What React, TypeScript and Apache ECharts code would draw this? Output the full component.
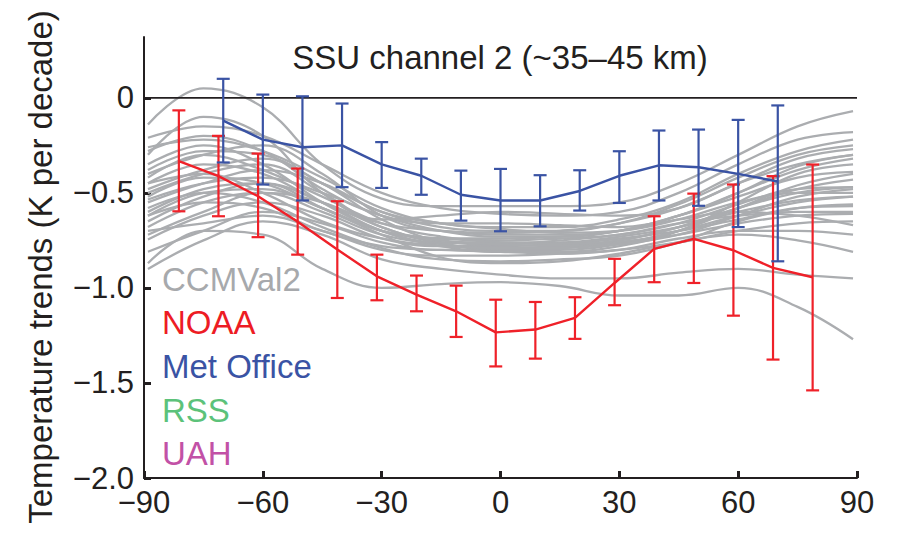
import React, { useEffect, useRef } from "react";
import * as echarts from "echarts";

// ---------- data ----------
const xTicks = [-90, -60, -30, 0, 30, 60, 90];
const yTicks = [-2.0, -1.5, -1.0, -0.5, 0];

// Met Office (blue)
const metLat = [-70, -60, -50, -40, -30, -20, -10, 0, 10, 20, 30, 40, 50, 60, 70];
const metVal = [-0.12, -0.22, -0.26, -0.25, -0.35, -0.41, -0.51, -0.54, -0.54, -0.49, -0.41, -0.355, -0.365, -0.4, -0.44];
const metHi = [0.1, 0.017, 0.008, -0.03, -0.233, -0.32, -0.383, -0.374, -0.407, -0.381, -0.281, -0.172, -0.167, -0.116, -0.04];
const metLo = [-0.34, -0.456, -0.54, -0.47, -0.474, -0.51, -0.646, -0.702, -0.676, -0.593, -0.553, -0.54, -0.568, -0.68, -0.86];

// NOAA (red)
const noaaLat = [-81.2, -71.2, -61.2, -51.2, -41.2, -31.2, -21.2, -11.2, -1.2, 8.8, 18.8, 28.8, 38.8, 48.8, 58.8, 68.8, 78.8];
const noaaVal = [-0.333, -0.412, -0.518, -0.652, -0.798, -0.939, -1.035, -1.123, -1.234, -1.219, -1.158, -0.974, -0.795, -0.742, -0.802, -0.895, -0.944];
const noaaHi = [-0.066, -0.2, -0.293, -0.372, -0.544, -0.825, -0.935, -0.988, -1.062, -1.074, -1.049, -0.847, -0.623, -0.504, -0.456, -0.412, -0.351];
const noaaLo = [-0.597, -0.623, -0.733, -0.825, -1.053, -1.065, -1.123, -1.258, -1.413, -1.372, -1.268, -1.091, -0.97, -0.974, -1.146, -1.377, -1.539];

// CCMVal2 models (gray)
const ccmLat = [-89, -75, -60, -45, -30, -15, 0, 15, 30, 45, 60, 75, 89];
const ccmModels = [
  [-0.14, 0.05, -0.05, -0.35, -0.53, -0.57, -0.57, -0.57, -0.55, -0.45, -0.3, -0.15, -0.07],
  [-0.21, -0.15, -0.2, -0.35, -0.5, -0.58, -0.61, -0.62, -0.6, -0.5, -0.35, -0.22, -0.18],
  [-0.26, -0.22, -0.28, -0.42, -0.58, -0.66, -0.68, -0.68, -0.64, -0.55, -0.4, -0.28, -0.22],
  [-0.38, -0.28, -0.3, -0.45, -0.6, -0.68, -0.7, -0.7, -0.66, -0.58, -0.45, -0.32, -0.27],
  [-0.45, -0.35, -0.4, -0.55, -0.66, -0.7, -0.72, -0.72, -0.7, -0.62, -0.5, -0.38, -0.32],
  [-0.535, -0.45, -0.42, -0.5, -0.62, -0.7, -0.73, -0.73, -0.7, -0.62, -0.52, -0.42, -0.39],
  [-0.62, -0.5, -0.48, -0.58, -0.7, -0.74, -0.75, -0.74, -0.72, -0.66, -0.56, -0.48, -0.47],
  [-0.68, -0.55, -0.5, -0.6, -0.72, -0.76, -0.76, -0.76, -0.73, -0.68, -0.6, -0.54, -0.52],
  [-0.745, -0.62, -0.55, -0.62, -0.74, -0.78, -0.78, -0.77, -0.74, -0.7, -0.64, -0.58, -0.57],
  [-0.81, -0.7, -0.6, -0.66, -0.76, -0.8, -0.8, -0.79, -0.76, -0.72, -0.66, -0.62, -0.61],
  [-0.5, -0.4, -0.35, -0.5, -0.68, -0.74, -0.74, -0.73, -0.7, -0.64, -0.6, -0.62, -0.67],
  [-0.6, -0.48, -0.45, -0.58, -0.72, -0.84, -0.87, -0.86, -0.82, -0.76, -0.72, -0.75, -0.81],
  [-0.9, -0.75, -0.65, -0.72, -0.85, -0.9, -0.93, -0.95, -0.95, -0.92, -0.9, -0.93, -0.95],
  [-0.87, -0.7, -0.72, -0.9, -1.0, -0.98, -0.97, -0.99, -1.04, -1.04, -1.0, -1.1, -1.27],
  [-0.3, -0.1, -0.2, -0.5, -0.64, -0.62, -0.6, -0.61, -0.62, -0.58, -0.45, -0.35, -0.3],
  [-0.4, -0.3, -0.25, -0.4, -0.62, -0.7, -0.71, -0.7, -0.66, -0.56, -0.42, -0.3, -0.25],
  [-0.55, -0.45, -0.38, -0.45, -0.6, -0.66, -0.69, -0.71, -0.7, -0.64, -0.55, -0.5, -0.5],
  [-0.65, -0.52, -0.45, -0.55, -0.7, -0.77, -0.79, -0.78, -0.75, -0.68, -0.58, -0.5, -0.47],
  [-0.72, -0.6, -0.5, -0.55, -0.68, -0.76, -0.77, -0.75, -0.72, -0.66, -0.62, -0.6, -0.6],
  [-0.48, -0.38, -0.32, -0.45, -0.64, -0.76, -0.8, -0.8, -0.77, -0.7, -0.62, -0.55, -0.52],
  [-0.35, -0.25, -0.35, -0.55, -0.7, -0.78, -0.81, -0.81, -0.78, -0.7, -0.55, -0.4, -0.35],
  [-0.58, -0.5, -0.55, -0.68, -0.79, -0.85, -0.86, -0.85, -0.83, -0.76, -0.65, -0.58, -0.56],
  [-0.42, -0.3, -0.38, -0.52, -0.66, -0.73, -0.76, -0.77, -0.75, -0.68, -0.58, -0.48, -0.43],
  [-0.62, -0.55, -0.58, -0.7, -0.78, -0.8, -0.81, -0.82, -0.8, -0.76, -0.7, -0.66, -0.65],
  [-0.28, -0.2, -0.28, -0.48, -0.62, -0.66, -0.66, -0.67, -0.68, -0.62, -0.5, -0.36, -0.3],
  [-0.52, -0.42, -0.45, -0.58, -0.7, -0.75, -0.77, -0.78, -0.76, -0.7, -0.58, -0.46, -0.4],
  [-0.7, -0.66, -0.62, -0.7, -0.8, -0.83, -0.83, -0.82, -0.8, -0.74, -0.7, -0.7, -0.72],
  [-0.45, -0.4, -0.5, -0.65, -0.74, -0.78, -0.79, -0.79, -0.77, -0.72, -0.62, -0.52, -0.48],
];

const legendItems = ["CCMVal2", "NOAA", "Met Office", "RSS", "UAH"];
const legendColors = ["#a7a9ac", "#ed1c24", "#3a53a4", "#5cc27a", "#c251a6"];

// ---------- styles ----------
const FONT = "'Liberation Sans', Arial, Helvetica, sans-serif";
const INK = "#231f20";
const GRAY = "#abadb0";
const RED = "#ef2129";
const BLUE = "#3a53a4";

const fmtNum = (v: number) => {
  if (Math.abs(v) < 1e-9) return "0";
  const a = Math.abs(v);
  const s = a >= 10 ? String(Math.round(a)) : a.toFixed(1);
  return (v < 0 ? "\u2212" : "") + s;
};

function errorBars(lat: number[], lo: number[], hi: number[], color: string) {
  return {
    type: "custom",
    z: 6,
    silent: true,
    encode: { x: 0, y: [1, 2] },
    data: lat.map((x, i) => [x, lo[i], hi[i]]),
    renderItem: (params: any, api: any) => {
      const x = api.value(0);
      const p1 = api.coord([x, api.value(1)]);
      const p2 = api.coord([x, api.value(2)]);
      const hw = 6.5;
      const st = { stroke: color, lineWidth: 2.2 };
      return {
        type: "group",
        children: [
          { type: "line", shape: { x1: p1[0], y1: p1[1], x2: p2[0], y2: p2[1] }, style: st },
          { type: "line", shape: { x1: p1[0] - hw, y1: p1[1], x2: p1[0] + hw, y2: p1[1] }, style: st },
          { type: "line", shape: { x1: p2[0] - hw, y1: p2[1], x2: p2[0] + hw, y2: p2[1] }, style: st },
        ],
      };
    },
  };
}

export default function App() {
  const ref = useRef<HTMLDivElement>(null);
  useEffect(() => {
    if (!ref.current) return;
    const chart = echarts.init(ref.current, null, { renderer: "svg" });

    const graySeries = ccmModels.map((vals) => ({
      type: "line",
      data: ccmLat.map((lat, i) => [lat, vals[i]]),
      smooth: 0.4,
      symbol: "none",
      silent: true,
      z: 1,
      lineStyle: { color: GRAY, width: 2.3 },
    }));

    const legendGraphics = legendItems.map((name, i) => ({
      type: "text",
      x: 162,
      y: 279 + i * 43.7,
      silent: true,
      style: {
        text: name,
        fill: legendColors[i],
        fontSize: 33,
        fontFamily: FONT,
        textAlign: "left",
        textVerticalAlign: "middle",
      },
    }));

    chart.setOption({
      animation: false,
      backgroundColor: "#ffffff",
      grid: { left: 144, right: 40, top: 37, bottom: 56, containLabel: false },
      xAxis: {
        type: "value",
        min: -90,
        max: 90,
        interval: 30,
        axisLine: { show: true, onZero: false, lineStyle: { color: INK, width: 2 } },
        axisTick: { show: true, inside: true, length: 7, lineStyle: { color: INK, width: 3 }, customValues: xTicks },
        axisLabel: {
          color: INK,
          fontSize: 31,
          fontFamily: FONT,
          margin: 9,
          customValues: xTicks,
          formatter: (v: number) => fmtNum(v),
        },
        splitLine: { show: false },
      },
      yAxis: {
        type: "value",
        min: -2,
        max: 0.32,
        interval: 0.5,
        axisLine: { show: true, onZero: false, lineStyle: { color: INK, width: 2 } },
        axisTick: { show: true, inside: true, length: 7, lineStyle: { color: INK, width: 3 }, customValues: yTicks },
        axisLabel: {
          color: INK,
          fontSize: 31,
          fontFamily: FONT,
          margin: 10,
          customValues: yTicks,
          formatter: (v: number) => fmtNum(v),
        },
        splitLine: { show: false },
      },
      graphic: [
        {
          type: "text",
          x: 500,
          y: 57,
          silent: true,
          style: {
            text: "SSU channel 2 (~35\u201345 km)",
            fill: INK,
            fontSize: 33,
            fontFamily: FONT,
            textAlign: "center",
            textVerticalAlign: "middle",
          },
        },
        {
          type: "text",
          x: 40,
          y: 267,
          rotation: Math.PI / 2,
          silent: true,
          style: {
            text: "Temperature trends (K per decade)",
            fill: INK,
            fontSize: 33,
            fontFamily: FONT,
            textAlign: "center",
            textVerticalAlign: "middle",
          },
        },
        ...legendGraphics,
      ],
      series: [
        ...graySeries,
        {
          type: "line",
          data: [[-90, 0], [90, 0]],
          symbol: "none",
          silent: true,
          z: 3,
          lineStyle: { color: INK, width: 1.6 },
        },
        {
          type: "line",
          name: "NOAA",
          data: noaaLat.map((x, i) => [x, noaaVal[i]]),
          symbol: "none",
          z: 5,
          lineStyle: { color: RED, width: 2.4 },
        },
        errorBars(noaaLat, noaaLo, noaaHi, RED),
        {
          type: "line",
          name: "Met Office",
          data: metLat.map((x, i) => [x, metVal[i]]),
          symbol: "none",
          z: 7,
          lineStyle: { color: BLUE, width: 2.4 },
        },
        { ...errorBars(metLat, metLo, metHi, BLUE), z: 8 },
      ],
    });
    return () => chart.dispose();
  }, []);
  return (
    <div
      ref={ref}
      style={{ position: "fixed", left: 0, top: 0, width: 897, height: 534, background: "#fff" }}
    />
  );
}
